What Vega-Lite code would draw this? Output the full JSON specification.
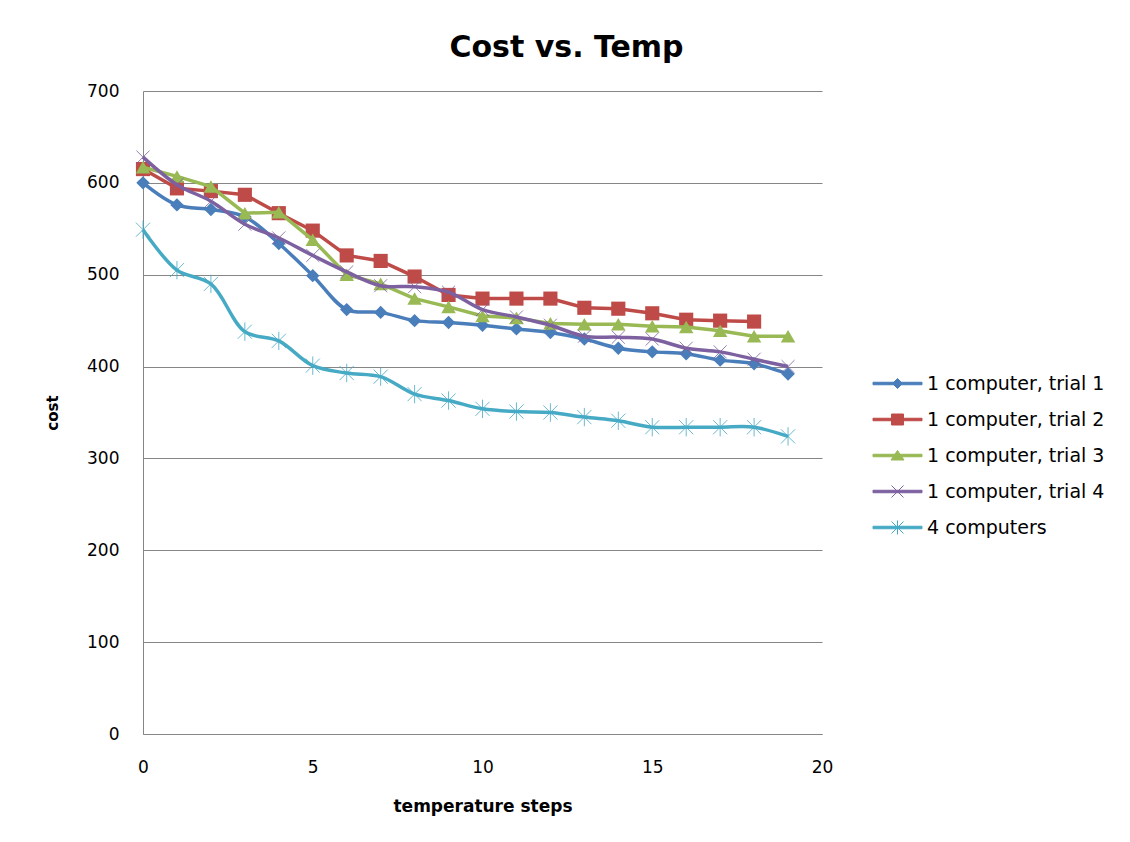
{
  "$schema": "https://vega.github.io/schema/vega-lite/v6.json",
  "width": 679,
  "height": 643,
  "autosize": {"type": "none"},
  "padding": {"left": 143, "top": 91, "right": 308, "bottom": 108},
  "background": "white",
  "title": {"text": "Cost vs. Temp", "font": "DejaVu Sans", "fontSize": 30, "fontWeight": "bold", "color": "black", "anchor": "middle", "frame": "group", "dx": 84, "dy": 29, "offset": 24, "baseline": "alphabetic"},
  "config": {
    "view": {"stroke": null},
    "legend": {"orient": "none", "legendX": 745, "legendY": 283, "padding": 0, "labelFont": "DejaVu Sans", "labelFontSize": 19, "labelColor": "black", "labelLimit": 400, "rowPadding": 16, "symbolSize": 100, "labelOffset": 20}
  },
  "data": {"values": [
    {"step": 0, "series": "1 computer, trial 1", "cost": 600},
    {"step": 1, "series": "1 computer, trial 1", "cost": 576},
    {"step": 2, "series": "1 computer, trial 1", "cost": 571},
    {"step": 3, "series": "1 computer, trial 1", "cost": 563},
    {"step": 4, "series": "1 computer, trial 1", "cost": 534},
    {"step": 5, "series": "1 computer, trial 1", "cost": 499},
    {"step": 6, "series": "1 computer, trial 1", "cost": 462},
    {"step": 7, "series": "1 computer, trial 1", "cost": 459},
    {"step": 8, "series": "1 computer, trial 1", "cost": 450},
    {"step": 9, "series": "1 computer, trial 1", "cost": 448},
    {"step": 10, "series": "1 computer, trial 1", "cost": 445},
    {"step": 11, "series": "1 computer, trial 1", "cost": 441},
    {"step": 12, "series": "1 computer, trial 1", "cost": 437},
    {"step": 13, "series": "1 computer, trial 1", "cost": 430},
    {"step": 14, "series": "1 computer, trial 1", "cost": 420},
    {"step": 15, "series": "1 computer, trial 1", "cost": 416},
    {"step": 16, "series": "1 computer, trial 1", "cost": 414},
    {"step": 17, "series": "1 computer, trial 1", "cost": 407},
    {"step": 18, "series": "1 computer, trial 1", "cost": 403},
    {"step": 19, "series": "1 computer, trial 1", "cost": 392},
    {"step": 0, "series": "1 computer, trial 2", "cost": 615},
    {"step": 1, "series": "1 computer, trial 2", "cost": 594},
    {"step": 2, "series": "1 computer, trial 2", "cost": 591},
    {"step": 3, "series": "1 computer, trial 2", "cost": 587},
    {"step": 4, "series": "1 computer, trial 2", "cost": 567},
    {"step": 5, "series": "1 computer, trial 2", "cost": 548},
    {"step": 6, "series": "1 computer, trial 2", "cost": 521},
    {"step": 7, "series": "1 computer, trial 2", "cost": 515},
    {"step": 8, "series": "1 computer, trial 2", "cost": 498},
    {"step": 9, "series": "1 computer, trial 2", "cost": 478},
    {"step": 10, "series": "1 computer, trial 2", "cost": 474},
    {"step": 11, "series": "1 computer, trial 2", "cost": 474},
    {"step": 12, "series": "1 computer, trial 2", "cost": 474},
    {"step": 13, "series": "1 computer, trial 2", "cost": 464},
    {"step": 14, "series": "1 computer, trial 2", "cost": 463},
    {"step": 15, "series": "1 computer, trial 2", "cost": 458},
    {"step": 16, "series": "1 computer, trial 2", "cost": 451},
    {"step": 17, "series": "1 computer, trial 2", "cost": 450},
    {"step": 18, "series": "1 computer, trial 2", "cost": 449},
    {"step": 0, "series": "1 computer, trial 3", "cost": 617},
    {"step": 1, "series": "1 computer, trial 3", "cost": 607},
    {"step": 2, "series": "1 computer, trial 3", "cost": 596},
    {"step": 3, "series": "1 computer, trial 3", "cost": 567},
    {"step": 4, "series": "1 computer, trial 3", "cost": 568},
    {"step": 5, "series": "1 computer, trial 3", "cost": 538},
    {"step": 6, "series": "1 computer, trial 3", "cost": 500},
    {"step": 7, "series": "1 computer, trial 3", "cost": 490},
    {"step": 8, "series": "1 computer, trial 3", "cost": 474},
    {"step": 9, "series": "1 computer, trial 3", "cost": 465},
    {"step": 10, "series": "1 computer, trial 3", "cost": 455},
    {"step": 11, "series": "1 computer, trial 3", "cost": 453},
    {"step": 12, "series": "1 computer, trial 3", "cost": 447},
    {"step": 13, "series": "1 computer, trial 3", "cost": 446},
    {"step": 14, "series": "1 computer, trial 3", "cost": 446},
    {"step": 15, "series": "1 computer, trial 3", "cost": 444},
    {"step": 16, "series": "1 computer, trial 3", "cost": 443},
    {"step": 17, "series": "1 computer, trial 3", "cost": 439},
    {"step": 18, "series": "1 computer, trial 3", "cost": 433},
    {"step": 19, "series": "1 computer, trial 3", "cost": 433},
    {"step": 0, "series": "1 computer, trial 4", "cost": 628},
    {"step": 1, "series": "1 computer, trial 4", "cost": 598},
    {"step": 2, "series": "1 computer, trial 4", "cost": 580},
    {"step": 3, "series": "1 computer, trial 4", "cost": 555},
    {"step": 4, "series": "1 computer, trial 4", "cost": 540},
    {"step": 5, "series": "1 computer, trial 4", "cost": 521},
    {"step": 6, "series": "1 computer, trial 4", "cost": 503},
    {"step": 7, "series": "1 computer, trial 4", "cost": 488},
    {"step": 8, "series": "1 computer, trial 4", "cost": 487},
    {"step": 9, "series": "1 computer, trial 4", "cost": 481},
    {"step": 10, "series": "1 computer, trial 4", "cost": 462},
    {"step": 11, "series": "1 computer, trial 4", "cost": 454},
    {"step": 12, "series": "1 computer, trial 4", "cost": 445},
    {"step": 13, "series": "1 computer, trial 4", "cost": 433},
    {"step": 14, "series": "1 computer, trial 4", "cost": 432},
    {"step": 15, "series": "1 computer, trial 4", "cost": 430},
    {"step": 16, "series": "1 computer, trial 4", "cost": 420},
    {"step": 17, "series": "1 computer, trial 4", "cost": 416},
    {"step": 18, "series": "1 computer, trial 4", "cost": 408},
    {"step": 19, "series": "1 computer, trial 4", "cost": 400},
    {"step": 0, "series": "4 computers", "cost": 549},
    {"step": 1, "series": "4 computers", "cost": 505},
    {"step": 2, "series": "4 computers", "cost": 490},
    {"step": 3, "series": "4 computers", "cost": 438},
    {"step": 4, "series": "4 computers", "cost": 428},
    {"step": 5, "series": "4 computers", "cost": 401},
    {"step": 6, "series": "4 computers", "cost": 393},
    {"step": 7, "series": "4 computers", "cost": 389},
    {"step": 8, "series": "4 computers", "cost": 370},
    {"step": 9, "series": "4 computers", "cost": 363},
    {"step": 10, "series": "4 computers", "cost": 354},
    {"step": 11, "series": "4 computers", "cost": 351},
    {"step": 12, "series": "4 computers", "cost": 350},
    {"step": 13, "series": "4 computers", "cost": 345},
    {"step": 14, "series": "4 computers", "cost": 341},
    {"step": 15, "series": "4 computers", "cost": 334},
    {"step": 16, "series": "4 computers", "cost": 334},
    {"step": 17, "series": "4 computers", "cost": 334},
    {"step": 18, "series": "4 computers", "cost": 334},
    {"step": 19, "series": "4 computers", "cost": 324}
  ]},
  "encoding": {
    "x": {"field": "step", "type": "quantitative", "scale": {"domain": [0, 20], "nice": false},
      "axis": {"values": [0, 5, 10, 15, 20], "grid": false, "ticks": false, "domainColor": "#868686", "domainWidth": 1, "labelFont": "DejaVu Sans", "labelFontSize": 17, "labelColor": "black", "labelPadding": 25, "labelFlush": false, "labelOverlap": false,
        "title": "temperature steps", "titleFont": "DejaVu Sans", "titleFontSize": 17, "titleFontWeight": "bold", "titleColor": "black", "titleX": 339.5, "titleY": 72, "titleBaseline": "middle", "titleAlign": "center"}},
    "y": {"field": "cost", "type": "quantitative", "scale": {"domain": [0, 700], "nice": false},
      "axis": {"values": [0, 100, 200, 300, 400, 500, 600, 700], "grid": true, "gridColor": "#868686", "gridWidth": 1, "ticks": false, "domainColor": "#868686", "domainWidth": 1, "labelFont": "DejaVu Sans", "labelFontSize": 17, "labelColor": "black", "labelPadding": 24, "labelFlush": false, "labelOverlap": false,
        "title": "cost", "titleFont": "DejaVu Sans", "titleFontSize": 15, "titleFontWeight": "bold", "titleColor": "black", "titleX": -91, "titleY": 321.5, "titleBaseline": "middle", "titleAlign": "center", "titleAngle": -90}},
    "stroke": {"field": "series", "type": "nominal",
      "scale": {"domain": ["1 computer, trial 1", "1 computer, trial 2", "1 computer, trial 3", "1 computer, trial 4", "4 computers"], "range": ["#4A7EBB", "#BE4B48", "#98B954", "#7D60A0", "#46AAC5"]},
      "legend": {"title": null,
        "encode": {"symbols": {"update": {
          "shape": {"signal": "datum.value === '1 computer, trial 1' ? 'M-4.9,-0.25L4.9,-0.25L4.9,0.25L-4.9,0.25Z M-1,0L0,-1L1,0L0,1Z' : datum.value === '1 computer, trial 2' ? 'M-4.9,-0.25L4.9,-0.25L4.9,0.25L-4.9,0.25Z M-1.2,-1.1L1.2,-1.1L1.2,1.1L-1.2,1.1Z' : datum.value === '1 computer, trial 3' ? 'M-4.9,-0.25L4.9,-0.25L4.9,0.25L-4.9,0.25Z M0,-1L1.3,0.9L-1.3,0.9Z' : datum.value === '1 computer, trial 4' ? 'M-4.9,-0.25L4.9,-0.25L4.9,0.25L-4.9,0.25Z M-1.2,-1.2L1.2,1.2 M-1.2,1.2L1.2,-1.2' : 'M-4.9,-0.25L4.9,-0.25L4.9,0.25L-4.9,0.25Z M-1.2,-1.2L1.2,1.2 M-1.2,1.2L1.2,-1.2 M0,-1.4L0,1.4'"},
          "size": {"value": 100},
          "strokeWidth": {"value": 1},
          "fill": {"signal": "scale('stroke', datum.value)"},
          "stroke": {"signal": "scale('stroke', datum.value)"},
          "opacity": {"value": 1}
        }}}}
    }
  },
  "layer": [
    {"transform": [{"filter": "datum.series === '1 computer, trial 1'"}], "mark": {"type": "line", "interpolate": "catmull-rom", "strokeWidth": 3.5}},
    {"transform": [{"filter": "datum.series === '1 computer, trial 1'"}], "mark": {"type": "point", "shape": "diamond", "size": 180, "filled": true, "opacity": 1, "strokeWidth": 0},
      "encoding": {"fill": {"field": "series", "type": "nominal", "scale": {"domain": ["1 computer, trial 1", "1 computer, trial 2", "1 computer, trial 3", "1 computer, trial 4", "4 computers"], "range": ["#4A7EBB", "#BE4B48", "#98B954", "#7D60A0", "#46AAC5"]}, "legend": null}}},
    {"transform": [{"filter": "datum.series === '1 computer, trial 2'"}], "mark": {"type": "line", "strokeWidth": 3.5}},
    {"transform": [{"filter": "datum.series === '1 computer, trial 2'"}], "mark": {"type": "point", "shape": "square", "size": 200, "filled": true, "opacity": 1, "strokeWidth": 0},
      "encoding": {"fill": {"field": "series", "type": "nominal", "legend": null}}},
    {"transform": [{"filter": "datum.series === '1 computer, trial 3'"}], "mark": {"type": "line", "strokeWidth": 3.5}},
    {"transform": [{"filter": "datum.series === '1 computer, trial 3'"}], "mark": {"type": "point", "shape": "triangle-up", "size": 210, "filled": true, "opacity": 1, "strokeWidth": 0},
      "encoding": {"fill": {"field": "series", "type": "nominal", "legend": null}}},
    {"transform": [{"filter": "datum.series === '1 computer, trial 4'"}], "mark": {"type": "line", "interpolate": "catmull-rom", "strokeWidth": 3.5}},
    {"transform": [{"filter": "datum.series === '1 computer, trial 4'"}], "mark": {"type": "point", "shape": "M-1,-1L1,1M-1,1L1,-1", "size": 170, "filled": false, "opacity": 0.8, "strokeWidth": 1}},
    {"transform": [{"filter": "datum.series === '4 computers'"}], "mark": {"type": "line", "interpolate": "catmull-rom", "strokeWidth": 3.5}},
    {"transform": [{"filter": "datum.series === '4 computers'"}], "mark": {"type": "point", "shape": "M-1,-1L1,1M-1,1L1,-1M0,-1.3L0,1.3", "size": 200, "filled": false, "opacity": 0.8, "strokeWidth": 1}}
  ]
}
